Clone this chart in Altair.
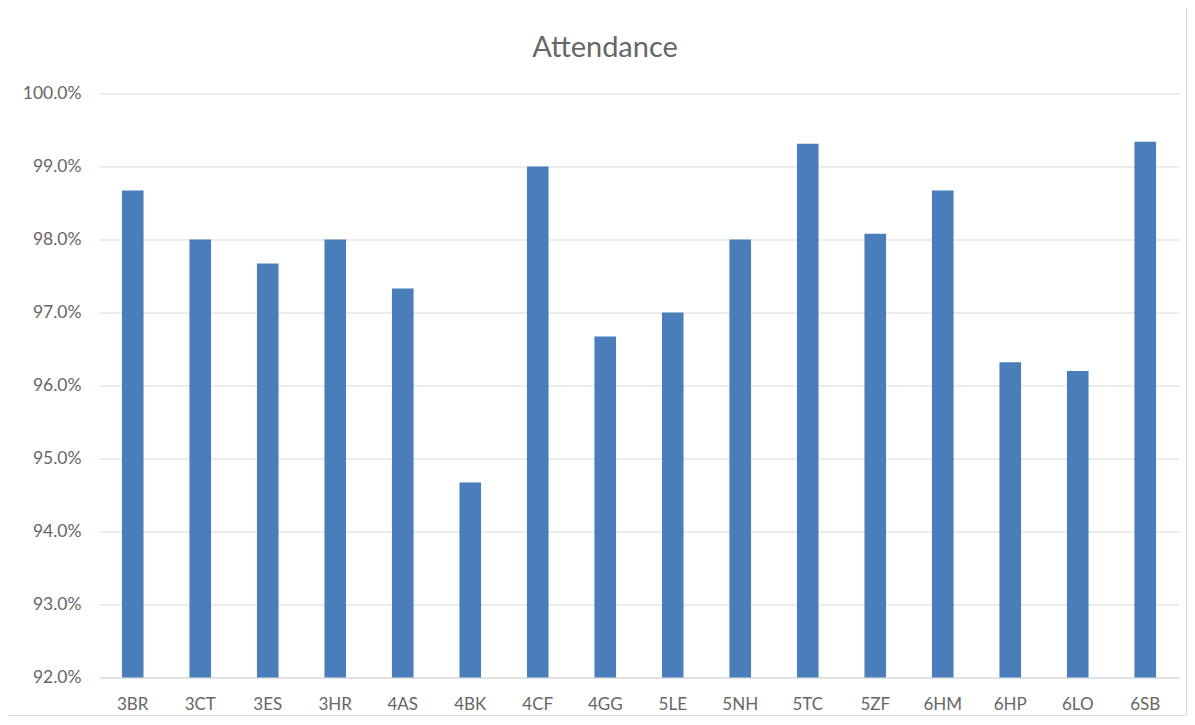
import altair as alt
import pandas as pd

classes = ["3BR", "3CT", "3ES", "3HR", "4AS", "4BK", "4CF", "4GG",
           "5LE", "5NH", "5TC", "5ZF", "6HM", "6HP", "6LO", "6SB"]
attendance = [0.9867, 0.9800, 0.9767, 0.9800, 0.9733, 0.9467, 0.9900, 0.9667,
              0.9700, 0.9800, 0.9931, 0.9808, 0.9867, 0.9632, 0.9620, 0.9934]
y_ticks = [0.92, 0.93, 0.94, 0.95, 0.96, 0.97, 0.98, 0.99, 1.00]

df = pd.DataFrame({"cls": classes, "att": attendance})

FONT = "Lato"
GREY = "#666666"

bars = alt.Chart(df).mark_bar(color="#4A7EBB").encode(
    x=alt.X("cls:N", sort=classes, title=None,
            scale=alt.Scale(paddingInner=0.68, paddingOuter=0.34),
            axis=alt.Axis(labelAngle=0, labelFont=FONT, labelFontSize=17,
                          labelColor=GREY, ticks=False, domain=True,
                          domainColor="#d9d9d9", labelPadding=19)),
    y=alt.Y("att:Q", title=None,
            scale=alt.Scale(domain=[0.92, 1.0], zero=False, nice=False),
            axis=alt.Axis(format=".1%", values=y_ticks, labelFont=FONT,
                          labelFontSize=17.5, labelColor=GREY, ticks=False,
                          domain=False, grid=True, gridColor="#d9d9d9",
                          labelPadding=18)),
    y2=alt.datum(0.92),
)

border = alt.Chart(df).mark_rect(fill=None, stroke="#d9d9d9", strokeWidth=1).encode(
    x=alt.value(-93.5), x2=alt.value(1087.5),
    y=alt.value(-86), y2=alt.value(622),
).transform_filter(alt.datum.cls == "3BR")

chart = alt.layer(border, bars).properties(
    width=1080, height=584,
    title=alt.Title("Attendance", font=FONT, fontSize=29, fontWeight="normal",
                    color=GREY, anchor="middle", frame="group", offset=-56, dx=-34),
    autosize=alt.AutoSizeParams(type="none"),
    padding={"left": 91, "top": 85.5, "right": 8, "bottom": 38},
).configure_view(stroke=None)

chart.save("out.html", embed_options={"renderer": "svg", "actions": False})
